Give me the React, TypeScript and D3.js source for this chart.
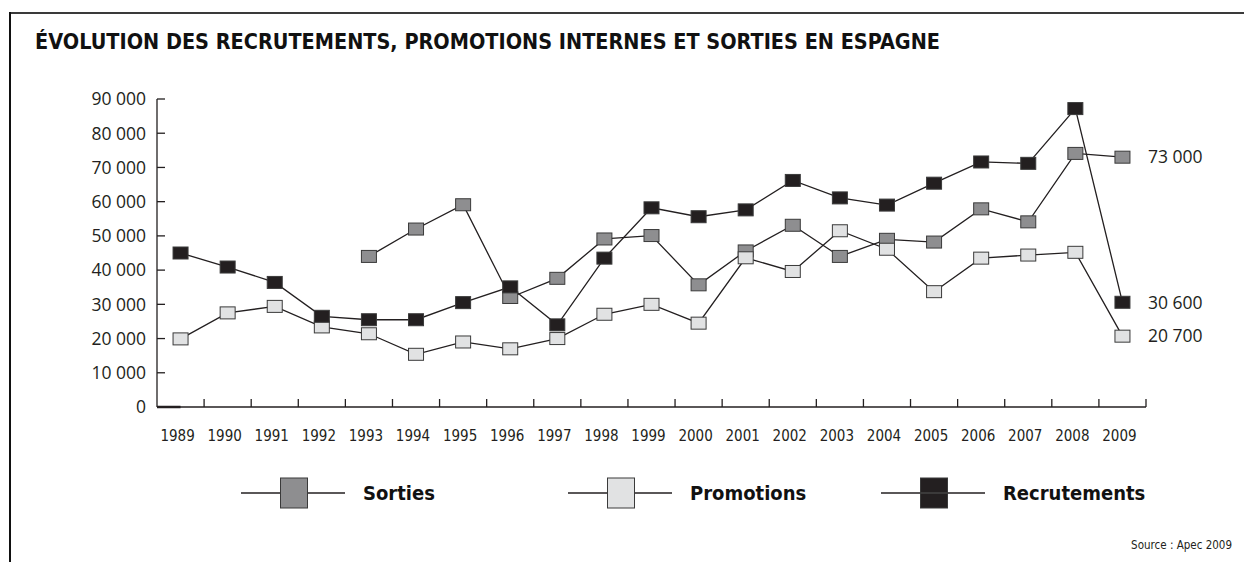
import * as d3 from 'd3';

const WIDTH = 1244;
const HEIGHT = 562;
const MARGIN = { top: 99, right: 98, bottom: 155, left: 157 };

const TITLE = 'ÉVOLUTION DES RECRUTEMENTS, PROMOTIONS INTERNES ET SORTIES EN ESPAGNE';

const years = ['1989', '1990', '1991', '1992', '1993', '1994', '1995', '1996', '1997', '1998', '1999',
    '2000', '2001', '2002', '2003', '2004', '2005', '2006', '2007', '2008', '2009'];

const sorties = [null, null, null, null, 44000, 52000, 59100, 32000, 37600, 49100, 50100,
    35700, 45600, 53100, 44000, 49000, 48200, 57900, 54100, 74100, 73000];
const promotions = [19900, 27500, 29400, 23400, 21400, 15400, 19000, 17000, 20000, 27100, 30000,
    24500, 43600, 39600, 51500, 46100, 33700, 43500, 44400, 45200, 20700];
const recrutements = [45000, 40900, 36400, 26500, 25500, 25500, 30500, 35100, 24000, 43500, 58200,
    55600, 57600, 66200, 61100, 59000, 65400, 71600, 71200, 87200, 30600];

const yTicks = [0, 10000, 20000, 30000, 40000, 50000, 60000, 70000, 80000, 90000];
const endLabels = ['73 000', '20 700', '30 600'];

const FONT = '"Open Sans", "DejaVu Sans", sans-serif';
const COND = '"DejaVu Sans Condensed", "DejaVu Sans", sans-serif';
const INK = '#231f20';

const seriesList = [
    { name: 'Sorties', values: sorties, fill: '#8e8e90' },
    { name: 'Promotions', values: promotions, fill: '#e1e2e3' },
    { name: 'Recrutements', values: recrutements, fill: '#231f20' },
];

const fmt = (v: number) => (v === 0 ? '0' : d3.format(',')(v).replace(/,/g, ' '));

export default function App() {
    const boundsWidth = WIDTH - MARGIN.left - MARGIN.right;
    const boundsHeight = HEIGHT - MARGIN.top - MARGIN.bottom;

    const xScale = d3.scaleBand().domain(years).range([0, boundsWidth]).padding(0);
    const yScale = d3.scaleLinear().domain([0, 90000]).range([boundsHeight, 0]);
    const cx = (i: number) => (xScale(years[i]) ?? 0) + xScale.bandwidth() / 2;

    const line = d3
        .line<number | null>()
        .defined((d) => d !== null)
        .x((_, i) => cx(i))
        .y((d) => yScale(d as number));

    // marker size
    const mw = 15;
    const mh = 12;

    // legend positions (centre of the marker box)
    const legendX = [294, 621, 934];
    const legendY = 493;

    return (
        <svg width={WIDTH} height={HEIGHT} style={{ position: 'absolute', left: 0, top: 0, background: '#fff' }}>
            {/* frame */}
            <line x1={10} x2={WIDTH} y1={13} y2={13} stroke="#3a3a3a" strokeWidth={2} />
            <line x1={10} x2={10} y1={12} y2={HEIGHT} stroke="#111" strokeWidth={2} />

            <text x={35} y={49} fontFamily={COND} fontWeight="bold" fontSize={22} fill="#111"
                textLength={905} lengthAdjust="spacingAndGlyphs">
                {TITLE}
            </text>

            <g transform={`translate(${MARGIN.left},${MARGIN.top})`}>
                {/* y axis */}
                <line x1={0} x2={0} y1={0} y2={boundsHeight} stroke={INK} strokeWidth={1.3} />
                {yTicks.map((t) => (
                    <g key={t}>
                        <line x1={0} x2={8} y1={yScale(t)} y2={yScale(t)} stroke={INK} strokeWidth={1.3} />
                        <text x={-11} y={yScale(t)} dy="0.36em" textAnchor="end" fontFamily={FONT}
                            fontSize={17.5} fill={INK}>
                            {fmt(t)}
                        </text>
                    </g>
                ))}

                {/* x axis */}
                <line x1={0} x2={boundsWidth} y1={boundsHeight} y2={boundsHeight} stroke={INK} strokeWidth={1.3} />
                <line x1={0} x2={cx(0)} y1={boundsHeight} y2={boundsHeight} stroke={INK} strokeWidth={2.5} />
                {years.map((y, i) => (
                    <g key={y}>
                        <line x1={(xScale(y) ?? 0) + xScale.bandwidth()} x2={(xScale(y) ?? 0) + xScale.bandwidth()}
                            y1={boundsHeight} y2={boundsHeight - 8} stroke={INK} strokeWidth={1.3} />
                        <text x={cx(i) - 3} y={boundsHeight + 34} textAnchor="middle" fontFamily={COND}
                            fontSize={15} fill={INK}>
                            {y}
                        </text>
                    </g>
                ))}

                {/* lines */}
                {seriesList.map((s) => (
                    <path key={s.name} d={line(s.values) ?? ''} fill="none" stroke={INK} strokeWidth={1.3} />
                ))}

                {/* markers */}
                {seriesList.map((s) => (
                    <g key={s.name}>
                        {s.values.map((v, i) =>
                            v === null ? null : (
                                <rect key={i} x={cx(i) - mw / 2} y={yScale(v) - mh / 2} width={mw} height={mh}
                                    fill={s.fill} stroke="#3a3a3a" strokeWidth={1} />
                            )
                        )}
                    </g>
                ))}

                {/* end labels */}
                {seriesList.map((s, k) => (
                    <text key={s.name} x={boundsWidth + 2} y={yScale(s.values[s.values.length - 1] as number)}
                        dy="0.36em" fontFamily={FONT} fontSize={17.5} fill={INK}>
                        {endLabels[k]}
                    </text>
                ))}
            </g>

            {/* legend */}
            {seriesList.map((s, k) => (
                <g key={s.name} transform={`translate(${legendX[k]},${legendY})`}>
                    <line x1={-53} x2={51} y1={0} y2={0} stroke={INK} strokeWidth={1.3} />
                    <rect x={-13.5} y={-15} width={27} height={30} fill={s.fill} stroke="#3a3a3a" strokeWidth={1} />
                    {k === 2 && <line x1={-13} x2={13} y1={0} y2={0} stroke="#4a4a4a" strokeWidth={1.3} />}
                    <text x={69} y={0} dy="0.36em" fontFamily={COND} fontWeight="bold" fontSize={20} fill="#111">
                        {s.name}
                    </text>
                </g>
            ))}

            <text x={1232} y={549} textAnchor="end" fontFamily={COND} fontSize={11.5} fill={INK}>
                Source : Apec 2009
            </text>
        </svg>
    );
}
